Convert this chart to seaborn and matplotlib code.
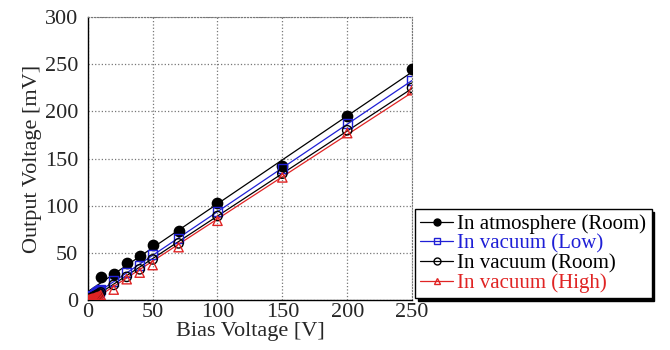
import matplotlib
matplotlib.use("Agg")
import matplotlib.pyplot as plt
from matplotlib.lines import Line2D
import seaborn as sns
import numpy as np
import pandas as pd

bias_atm = [0, 10, 20, 30, 40, 50, 70, 100, 150, 200, 250]
atm_room = [0, 24.5, 28, 39, 46.5, 58, 73.5, 103, 142, 195, 244.5]

bias_vac = [0, 1, 2, 3, 4, 5, 6, 7, 8, 9, 10, 20, 30, 40, 50, 70, 100, 150, 200, 250]
vac_low = [0, 1.5, 2.5, 3.5, 4.5, 5.5, 6.5, 7.5, 8.5, 9.5, 11, 20, 29, 36.5, 48.5, 65.5, 94, 139.5, 187, 232.5]
vac_room = [0, 0.8, 1.5, 2.2, 3, 3.7, 4.5, 5.2, 6, 6.8, 8, 16, 24.5, 32.5, 43, 60, 89, 134, 180, 225]
vac_high = [0, 0.4, 0.8, 1.2, 1.6, 2, 2.5, 3, 3.5, 4, 5, 11, 22, 29, 37, 56, 84, 130, 177, 222.5]

labels = ["In atmosphere (Room)", "In vacuum (Low)", "In vacuum (Room)", "In vacuum (High)"]
colors = ["black", "#1f1fd6", "black", "#e02424"]
markers = ["o", "s", "o", "^"]
filled = [True, False, False, False]

series = [(bias_atm, atm_room), (bias_vac, vac_low), (bias_vac, vac_room), (bias_vac, vac_high)]

sns.set_style("white")
plt.rcParams["font.family"] = ["Liberation Serif", "DejaVu Serif"]

fig = plt.figure(figsize=(6.7, 3.5), dpi=100)
ax = fig.add_axes([0.131, 0.143, 0.484, 0.808])

handles = []
for (x, y), lab, c, m, f in zip(series, labels, colors, markers, filled):
    df = pd.DataFrame({"bias": x, "out": y})
    # linear fit line through the data
    k, b = np.polyfit(df["bias"], df["out"], 1)
    fit = pd.DataFrame({"bias": [0, 250]})
    fit["out"] = k * fit["bias"] + b
    sns.lineplot(data=fit, x="bias", y="out", color=c, lw=0.9, ax=ax, zorder=2)
    sns.scatterplot(data=df, x="bias", y="out", marker=m, s=55 if f else 45,
                    facecolor=c if f else "none", edgecolor=c, linewidth=1.0,
                    ax=ax, zorder=3)
    handles.append(Line2D([], [], color=c, lw=0.9, marker=m, markersize=5,
                          markerfacecolor=c if f else "none", markeredgecolor=c))

ax.set_xlim(0, 250)
ax.set_ylim(0, 300)
ax.set_xticks([0, 50, 100, 150, 200, 250])
ax.set_yticks([0, 50, 100, 150, 200, 250, 300])
ax.grid(True, linestyle=":", color="#777777", lw=0.9)
ax.tick_params(labelsize=16, direction="in", length=4)
ax.tick_params(axis="x", pad=2)
ax.tick_params(axis="y", pad=7)
for s in ["top", "right"]:
    ax.spines[s].set_linestyle(":")
    ax.spines[s].set_color("#777777")
for s in ["left", "bottom"]:
    ax.spines[s].set_color("black")
    ax.spines[s].set_linewidth(1.0)
ax.set_xlabel("Bias Voltage [V]", fontsize=16, labelpad=0)
ax.set_ylabel("Output Voltage [mV]", fontsize=16, labelpad=2)

fig.legend(handles, labels, loc="lower left", bbox_to_anchor=(0.619, 0.148),
           fontsize=15, labelcolor=colors, frameon=True, fancybox=False,
           edgecolor="black", framealpha=1, handlelength=1.6, handletextpad=0.2,
           labelspacing=0.0, borderpad=0.25, borderaxespad=0,
           shadow={"color": "black", "alpha": 1})

fig.savefig("out.png", dpi=100)
